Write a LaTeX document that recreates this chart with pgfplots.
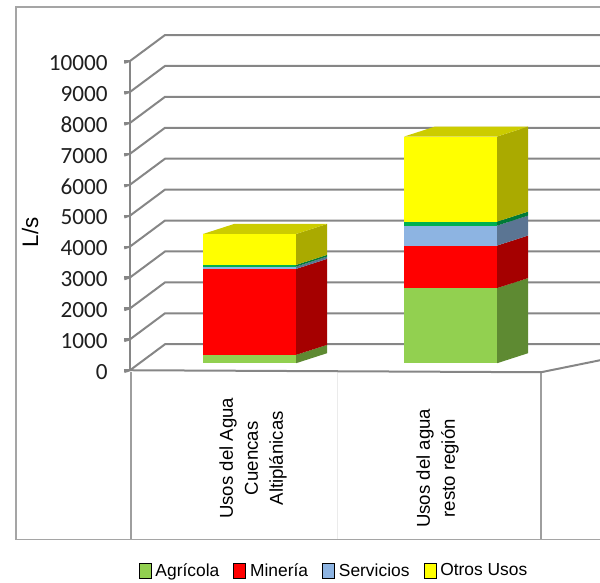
\documentclass[border=0pt]{standalone}
\usepackage{fontspec}
\setmainfont{Liberation Sans}
\newfontfamily\carlito{Carlito}
\usepackage{pgfplots}
\pgfplotsset{compat=1.18}

\definecolor{agF}{RGB}{146,208,80}
\definecolor{agS}{RGB}{94,138,50}
\definecolor{miF}{RGB}{255,0,0}
\definecolor{miS}{RGB}{165,0,0}
\definecolor{seF}{RGB}{141,180,226}
\definecolor{seS}{RGB}{91,117,147}
\definecolor{gnF}{RGB}{0,176,80}
\definecolor{gnS}{RGB}{0,122,55}
\definecolor{otF}{RGB}{255,255,0}
\definecolor{otS}{RGB}{170,170,0}
\definecolor{otT}{RGB}{204,204,0}
\definecolor{gridc}{RGB}{134,134,134}
\definecolor{framec}{RGB}{165,165,165}

% one stacked segment: xl, xr, z0, z1, front colour, side colour
\newcommand\segm[6]{%
  \addplot3[fill=#5,draw=none,forget plot] coordinates
    {(#1,0.7,#3) (#2,0.7,#3) (#2,0.7,#4) (#1,0.7,#4)} -- cycle;
  \addplot3[fill=#6,draw=none,forget plot] coordinates
    {(#2,0.7,#3) (#2,1.7,#3) (#2,1.7,#4) (#2,0.7,#4)} -- cycle;
}
% top face: xl, xr, z, colour
\newcommand\topf[4]{%
  \addplot3[fill=#4,draw=none,forget plot] coordinates
    {(#1,0.7,#3) (#2,0.7,#3) (#2,1.7,#3) (#1,1.7,#3)} -- cycle;
}
% gridline on left and back wall
\newcommand\gline[1]{%
  \addplot3[draw=gridc,line width=1pt,forget plot] coordinates
    {(130,0,#1) (84.4,2.6,#1) (619.4,2.6,#1)};
}

\begin{document}
\begin{tikzpicture}
\begin{axis}[
  x={(0.5pt,0pt)}, y={(15.5pt,5pt)}, z={(0pt,0.01545pt)},
  xmin=130, xmax=600, ymin=0, ymax=2.6, zmin=0, zmax=10000,
  axis lines*=left,
  x axis line style={draw=none}, y axis line style={draw=none},
  z axis line style={draw=gridc, line width=1pt},
  xtick=\empty, ytick=\empty,
  ztick={0,1000,...,10000},
  scaled z ticks=false,
  tick align=outside, major tick length=3pt,
  ztick style={draw=gridc, line width=1pt},
  zticklabel style={font=\carlito\fontsize{11.6}{13}\selectfont, text=black!88, anchor=east, xshift=-4.8pt},
  /pgf/number format/assume math mode=true,
  /pgf/number format/1000 sep={},
  clip=false,
  legend columns=-1,
  legend style={at={(axis cs:335,0,-6505)}, anchor=center, draw=none, fill=none,
    font=\fontsize{8.7}{10}\selectfont,
    /tikz/every even column/.append style={column sep=5pt}},
  legend image code/.code={\fill[#1] (0pt,-3.75pt) rectangle (6pt,3.75pt);},
]
% outer frame and category box
\addplot3[draw=framec,line width=0.75pt,forget plot] coordinates
  {(700,0,11748) (16,0,11748) (16,0,-5469) (700,0,-5469)};
\addplot3[draw=gridc!80,line width=1pt,forget plot] coordinates {(131,0,-65) (131,0,-5469)};
\addplot3[draw=gridc!80,line width=1pt,forget plot] coordinates {(541,0,-65) (541,0,-5469)};
\addplot3[draw=black!8,line width=0.5pt,forget plot] coordinates {(337,0,-65) (337,0,-5469)};

% walls
\gline{0}\gline{1000}\gline{2000}\gline{3000}\gline{4000}
\gline{5000}\gline{6000}\gline{7000}\gline{8000}\gline{9000}\gline{10000}
% floor
\addplot3[draw=gridc,line width=1pt,forget plot] coordinates
  {(130,0,0) (541,0,-65) (588.4,2.6,-65)};

% bar 1: Usos del Agua Cuencas Altiplanicas
% Agricola 270, Mineria 2780, Servicios 75, otro 55, Otros Usos 1000
\segm{181.3}{274.3}{0}{270}{agF}{agS}
\segm{181.3}{274.3}{270}{3050}{miF}{miS}
\segm{181.3}{274.3}{3050}{3125}{seF}{seS}
\segm{181.3}{274.3}{3125}{3180}{gnF}{gnS}
\segm{181.3}{274.3}{3180}{4180}{otF}{otS}
\topf{181.3}{274.3}{4180}{otT}

% bar 2: Usos del agua resto region
% Agricola 2430, Mineria 1375, Servicios 645, otro 130, Otros Usos 2750
\segm{382.3}{475.3}{0}{2430}{agF}{agS}
\segm{382.3}{475.3}{2430}{3805}{miF}{miS}
\segm{382.3}{475.3}{3805}{4450}{seF}{seS}
\segm{382.3}{475.3}{4450}{4580}{gnF}{gnS}
\segm{382.3}{475.3}{4580}{7330}{otF}{otS}
\topf{382.3}{475.3}{7330}{otT}

\addlegendimage{fill=agF}\addlegendentry{Agrícola}
\addlegendimage{fill=miF}\addlegendentry{Minería}
\addlegendimage{fill=seF}\addlegendentry{Servicios}
\addlegendimage{fill=otF}\addlegendentry{Otros Usos}

\node[rotate=90, font=\fontsize{11.2}{13}\selectfont] at (axis cs:30,0,4466) {L/s};
\node[rotate=90, align=center, font=\fontsize{9.3}{12.5}\selectfont] at (axis cs:253,0,-2848)
  {Usos del Agua\\Cuencas\\Altiplánicas};
\node[rotate=90, align=center, font=\fontsize{9.3}{12.5}\selectfont] at (axis cs:437.5,0,-3172)
  {Usos del agua\\resto región};

\coordinate (BL) at (axis cs:0,0,-6861);
\coordinate (TR) at (axis cs:600,0,11974);
\end{axis}
\pgfresetboundingbox
\path[use as bounding box] (BL) rectangle (TR);
\end{tikzpicture}
\end{document}
